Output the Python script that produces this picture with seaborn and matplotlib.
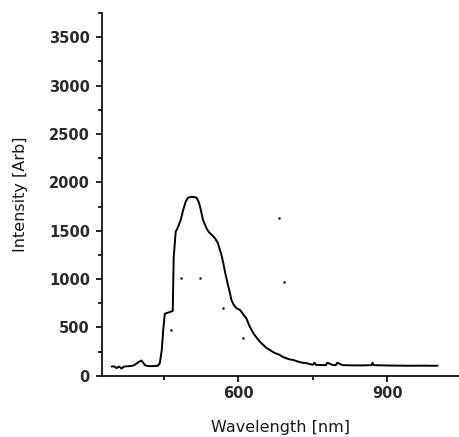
import numpy as np
import pandas as pd
import seaborn as sns
from matplotlib import pyplot as plt
from matplotlib.ticker import MultipleLocator

# spectrum
wavelength = [345, 350, 355, 360, 365, 370, 375, 380, 385, 390, 395, 400, 405, 408, 412,
              417, 425, 432, 438, 442, 444, 446, 449, 452, 456, 460, 465, 468, 470, 474,
              479, 484, 489, 494, 499, 505, 511, 516, 520, 523, 526, 529, 533, 536, 540,
              543, 548, 553, 559, 563, 566, 570, 573, 576, 579, 583, 586, 590, 596, 603,
              608, 613, 616, 622, 626, 630, 636, 643, 650, 656, 663, 670, 677, 683, 690,
              697, 703, 710, 718, 725, 730, 737, 745, 750, 753, 756, 765, 776, 779, 790,
              796, 799, 810, 830, 850, 868, 870, 872, 890, 910, 930, 950, 970, 990, 1001]
intensity = [96, 98, 80, 96, 75, 96, 98, 100, 102, 110, 125, 145, 158, 140, 110,
             102, 100, 102, 104, 130, 200, 270, 480, 640, 650, 655, 665, 670, 1230, 1490,
             1543, 1611, 1715, 1800, 1842, 1850, 1848, 1842, 1800, 1749, 1680, 1611, 1560, 1526, 1490,
             1474, 1450, 1422, 1371, 1300, 1250, 1160, 1077, 1010, 940, 860, 785, 740, 699, 682,
             650, 613, 596, 520, 480, 441, 400, 354, 320, 290, 269, 245, 228, 217, 195,
             180, 170, 165, 150, 140, 135, 131, 120, 114, 135, 114, 112, 110, 135, 112,
             110, 135, 110, 108, 108, 110, 135, 110, 108, 106, 105, 104, 105, 104, 104]

# stray single points
dot_wl = [464, 485, 522, 570, 610, 682, 691]
dot_int = [473, 1014, 1014, 704, 395, 1634, 973]

df = pd.DataFrame({'wl': wavelength, 'I': intensity})
dots = pd.DataFrame({'wl': dot_wl, 'I': dot_int})

sns.set_style("ticks")
plt.rcParams['font.family'] = ['DejaVu Sans']

fig = plt.figure(figsize=(4.6, 4.37), dpi=100)
ax = fig.add_axes([0.221, 0.14, 0.779, 0.830])

sns.lineplot(data=df, x='wl', y='I', ax=ax, color='black', linewidth=1.4)
sns.scatterplot(data=dots, x='wl', y='I', ax=ax, color='black', s=3, linewidth=0)

ax.set_xlim(325, 1046)
ax.set_ylim(0, 3750)
ax.xaxis.set_major_locator(MultipleLocator(300))
ax.xaxis.set_minor_locator(MultipleLocator(150))
ax.yaxis.set_major_locator(MultipleLocator(500))
ax.yaxis.set_minor_locator(MultipleLocator(250))
ax.tick_params(which='major', direction='out', length=4, width=1.2, color='black',
               labelsize=10.5, pad=4.5)
ax.tick_params(which='minor', direction='out', length=3, width=1.2, color='black')
ax.tick_params(axis='x', pad=3)
for lab in ax.get_xticklabels() + ax.get_yticklabels():
    lab.set_fontweight('bold')
    lab.set_color('#2a2a2a')

ax.set_xlabel('Wavelength [nm]', fontsize=11.5, color='#1a1a1a', va='center')
ax.set_ylabel('Intensity [Arb]', fontsize=11.5, color='#1a1a1a', va='center')
ax.xaxis.set_label_coords(0.5, -0.143)
ax.yaxis.set_label_coords(-0.226, 0.5)
for side in ['left', 'bottom']:
    ax.spines[side].set_linewidth(1.2)
    ax.spines[side].set_color('black')
sns.despine(ax=ax)

fig.savefig('out.png', dpi=100)
